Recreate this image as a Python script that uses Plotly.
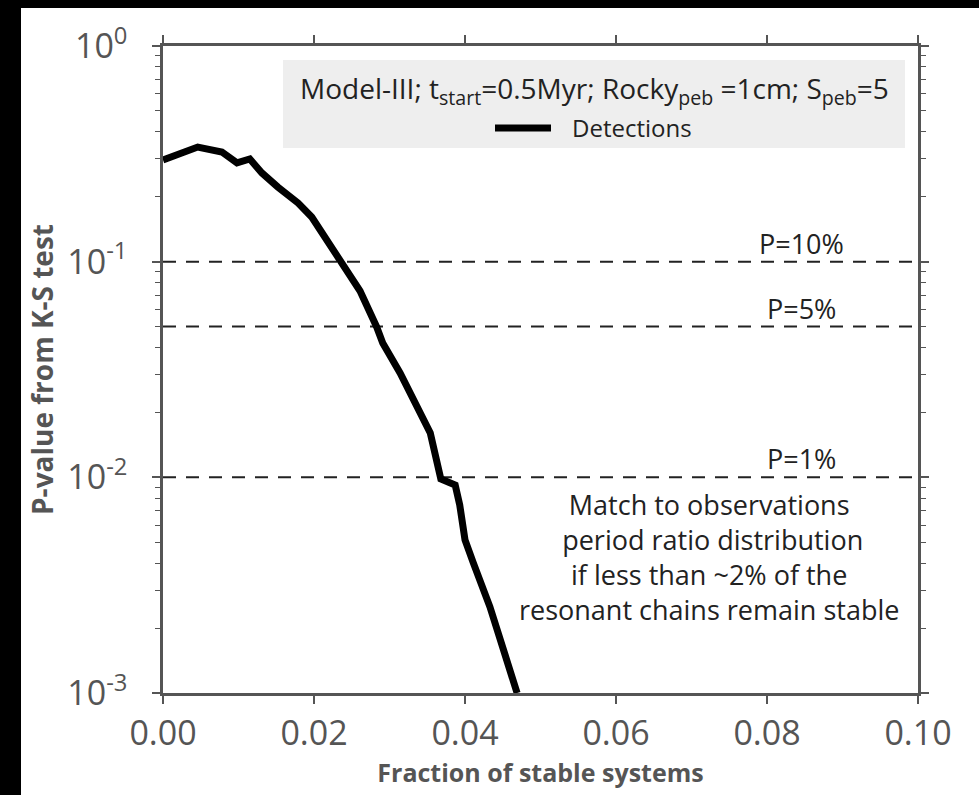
import plotly.graph_objects as go
import numpy as np

# ---- data ----
frac_stable = [0.0, 0.0025, 0.0046, 0.0078, 0.0098, 0.0115, 0.0131, 0.0152, 0.0179,
               0.0197, 0.0212, 0.0238, 0.0261, 0.0283, 0.0291, 0.0314, 0.0336, 0.0354,
               0.0368, 0.0387, 0.0393, 0.0400, 0.0411, 0.0433, 0.0469]
p_value = [0.296, 0.3225, 0.340, 0.3225, 0.287, 0.2994, 0.2577, 0.2220, 0.1871,
           0.1611, 0.1344, 0.0997, 0.0731, 0.0498, 0.0420, 0.0305, 0.0212, 0.01606,
           0.00983, 0.00922, 0.00745, 0.00513, 0.00401, 0.00251, 0.00100]

thresholds = [0.10, 0.05, 0.01]
threshold_labels = ["P=10%", "P=5%", "P=1%"]

x_ticks = [0.00, 0.02, 0.04, 0.06, 0.08, 0.10]
y_ticks = [1, 0.1, 0.01, 0.001]
y_tick_text = ["10<sup>0</sup>", "10<sup>-1</sup>", "10<sup>-2</sup>", "10<sup>-3</sup>"]
y_minor_ticks = [k * 10.0 ** e for e in (-3, -2, -1) for k in range(2, 10)]

legend_title = ("Model-III; t<sub>start</sub>=0.5Myr; Rocky<sub>peb</sub> =1cm; "
                "S<sub>peb</sub>=5")
series_name = "Detections"
note_text = ("Match to observations<br> period ratio distribution<br>"
             "if less than ~2% of the<br>resonant chains remain stable")

FONT = "Open Sans"
GREY = "#555555"
INK = "#222222"

# plot-area geometry in pixels (used only to place the legend box decorations)
PL, PR, PT, PB = 163, 918, 46, 693
def px_x(px):
    return (px - PL) / (PR - PL)
def px_y(py):
    return 1 - (py - PT) / (PB - PT)

fig = go.Figure()

# dashed threshold lines
for t in thresholds:
    fig.add_trace(go.Scatter(
        x=[0.0, 0.1], y=[t, t], mode="lines",
        line=dict(color=INK, width=2, dash="13px,10px"),
        showlegend=False, hoverinfo="skip"))

fig.add_trace(go.Scatter(
    x=frac_stable, y=p_value, mode="lines", name="\u2002\u2009" + series_name,
    line=dict(color="black", width=7)))

for t, lab in zip(thresholds, threshold_labels):
    fig.add_annotation(x=0.0846, y=np.log10(t), text=lab, showarrow=False,
                       xanchor="center", yanchor="bottom", yshift=-2,
                       font=dict(family=FONT, size=27, color=INK))

fig.add_annotation(x=0.0723, y=-2.03, text=note_text, showarrow=False,
                   xanchor="center", yanchor="top", align="center",
                   font=dict(family=FONT, size=27, color=INK))

# legend box: grey background + title line
fig.add_shape(type="rect", xref="paper", yref="paper",
              x0=px_x(283), x1=px_x(905), y0=px_y(148), y1=px_y(60),
              fillcolor="#eeeeee", line=dict(width=0), layer="below")
fig.add_annotation(xref="paper", yref="paper", x=px_x(594), y=px_y(90),
                   text=legend_title, showarrow=False,
                   xanchor="center", yanchor="middle",
                   font=dict(family=FONT, size=28, color=INK))

# black border strips of the original image
fig.add_shape(type="rect", xref="paper", yref="paper",
              x0=-0.3, x1=px_x(21), y0=-0.3, y1=1.3,
              fillcolor="black", line=dict(width=0), layer="above")
fig.add_shape(type="rect", xref="paper", yref="paper",
              x0=-0.3, x1=1.2, y0=px_y(8), y1=1.3,
              fillcolor="black", line=dict(width=0), layer="above")

axis_common = dict(
    showline=True, linecolor=GREY, linewidth=2.5, mirror="allticks",
    ticks="outside", ticklen=8, tickwidth=1.5, tickcolor=GREY,
    showgrid=False, zeroline=False,
    tickfont=dict(family=FONT, size=34, color=GREY),
)

fig.update_xaxes(
    range=[0, 0.1], tickvals=x_ticks, tickformat=".2f",
    title=dict(text="<b>Fraction of stable systems</b>", standoff=10,
               font=dict(family=FONT, size=25, color=GREY)),
    **axis_common)
fig.update_yaxes(
    type="log", range=[-3, 0], tickvals=y_ticks, ticktext=y_tick_text,
    ticklabelstandoff=18,
    minor=dict(tickvals=y_minor_ticks, ticks="outside", ticklen=5,
               tickcolor=GREY, tickwidth=1, showgrid=False),
    title=dict(text="<b>P-value from K-S test</b>", standoff=6,
               font=dict(family=FONT, size=28, color=GREY)),
    **axis_common)

fig.update_layout(
    width=979, height=795,
    margin=dict(l=163, r=61, t=46, b=102),
    paper_bgcolor="white", plot_bgcolor="white",
    legend=dict(
        x=px_x(490), y=px_y(106), xanchor="left", yanchor="top",
        bgcolor="rgba(0,0,0,0)", borderwidth=0,
        font=dict(family=FONT, size=24, color=INK),
        itemwidth=56,
    ),
    showlegend=True,
)

fig.write_html("out.html")
